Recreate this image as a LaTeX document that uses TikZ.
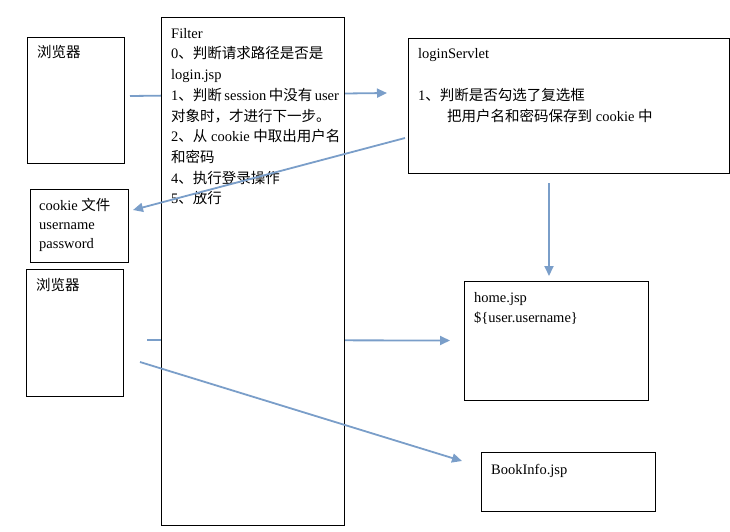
\documentclass[tikz,border=0pt]{standalone}
\usepackage{fontspec}
\setmainfont{Liberation Serif}
\newfontfamily\cjkfont{Noto Sans CJK SC}
\newcommand{\zh}[1]{{\cjkfont #1}}
\newcommand{\lineup}{\rule{0pt}{13pt}}
\newcommand{\thin}{\hspace{2.5pt}}
\usetikzlibrary{arrows.meta,backgrounds}
\definecolor{flowblue}{RGB}{122,158,201}

\begin{document}
\begin{tikzpicture}[x=1pt,y=-1pt,
  box/.style={draw=black,line width=1pt,fill=white,anchor=north west,
    inner sep=0pt,outer sep=0pt},
  txt/.style={anchor=north west,inner sep=0pt,align=left,
    font={\fontsize{14.5}{20.7}\selectfont}},
  flow/.style={draw=flowblue,line width=1.8pt,-{Triangle[length=10pt,width=9pt]}}]
  \useasboundingbox (0,0) rectangle (730,531);

  % Browsers and cookie file
  \node[box,minimum width=97pt,minimum height=126pt] (browserA) at (27,37) {};
  \node[txt] (browserAtxt) at (37,44) {\lineup\zh{浏览器}};
  \node[box,minimum width=98pt,minimum height=73pt] (cookie) at (30,189) {};
  \node[txt,font={\fontsize{14.5}{19.3}\selectfont}] (cookietxt) at (39,197)
    {\lineup cookie \zh{文件}\\ username\\ password};
  \node[box,minimum width=97pt,minimum height=127pt] (browserB) at (26,269) {};
  \node[txt] (browserBtxt) at (36,277) {\lineup\zh{浏览器}};

  % Filter
  \node[box,minimum width=183pt,minimum height=508pt] (filter) at (161,17) {};
  \node[txt] (filtertxt) at (171,25)
    {\lineup Filter\\
     0\zh{、判断请求路径是否是}\\
     login.jsp\\
     1\zh{、判断}\thin session\thin\zh{中没有}\thin user\\
     \zh{对象时，才进行下一步。}\\
     2\zh{、从} cookie \zh{中取出用户名}\\
     \zh{和密码}\\
     4\zh{、执行登录操作}\\
     5\zh{、放行}};

  % Servlet and pages
  \node[box,minimum width=321pt,minimum height=135pt] (servlet) at (408,38) {};
  \node[txt] (servlettxt) at (418,45)
    {\lineup loginServlet\\[22pt]
     1\zh{、判断是否勾选了复选框}\\
     \hspace{29pt}\zh{把用户名和密码保存到} cookie \zh{中}};
  \node[box,minimum width=184pt,minimum height=119pt] (home) at (464,281) {};
  \node[txt,font={\fontsize{14.5}{20}\selectfont}] (hometxt) at (474,289)
    {\lineup home.jsp\\ \$\{user.username\}};
  \node[box,minimum width=174pt,minimum height=59pt] (book) at (481,452) {};
  \node[txt] (booktxt) at (491,461) {\lineup BookInfo.jsp};

  % Requests passing behind the filter
  \begin{scope}[on background layer]
    \draw[flow] ([xshift=6pt,yshift=4pt]browserA.east)
      -- ([xshift=-21pt,yshift=12.5pt]servlet.west);
    \draw[flow] ([xshift=24pt,yshift=-7.5pt]browserB.east)
      -- ([xshift=-14pt]home.west);
  \end{scope}

  % Other flows
  \draw[flow] ([xshift=-3pt,yshift=-32.5pt]servlet.west)
    -- ([xshift=5pt,yshift=15.5pt]cookie.east);
  \draw[flow] ([xshift=-19.5pt,yshift=-10pt]servlet.south)
    -- ([xshift=-7pt,yshift=5pt]home.north);
  \draw[flow] ([xshift=17pt,yshift=-29.5pt]browserB.east)
    -- ([xshift=-19pt,yshift=20.5pt]book.west);
\end{tikzpicture}
\end{document}
